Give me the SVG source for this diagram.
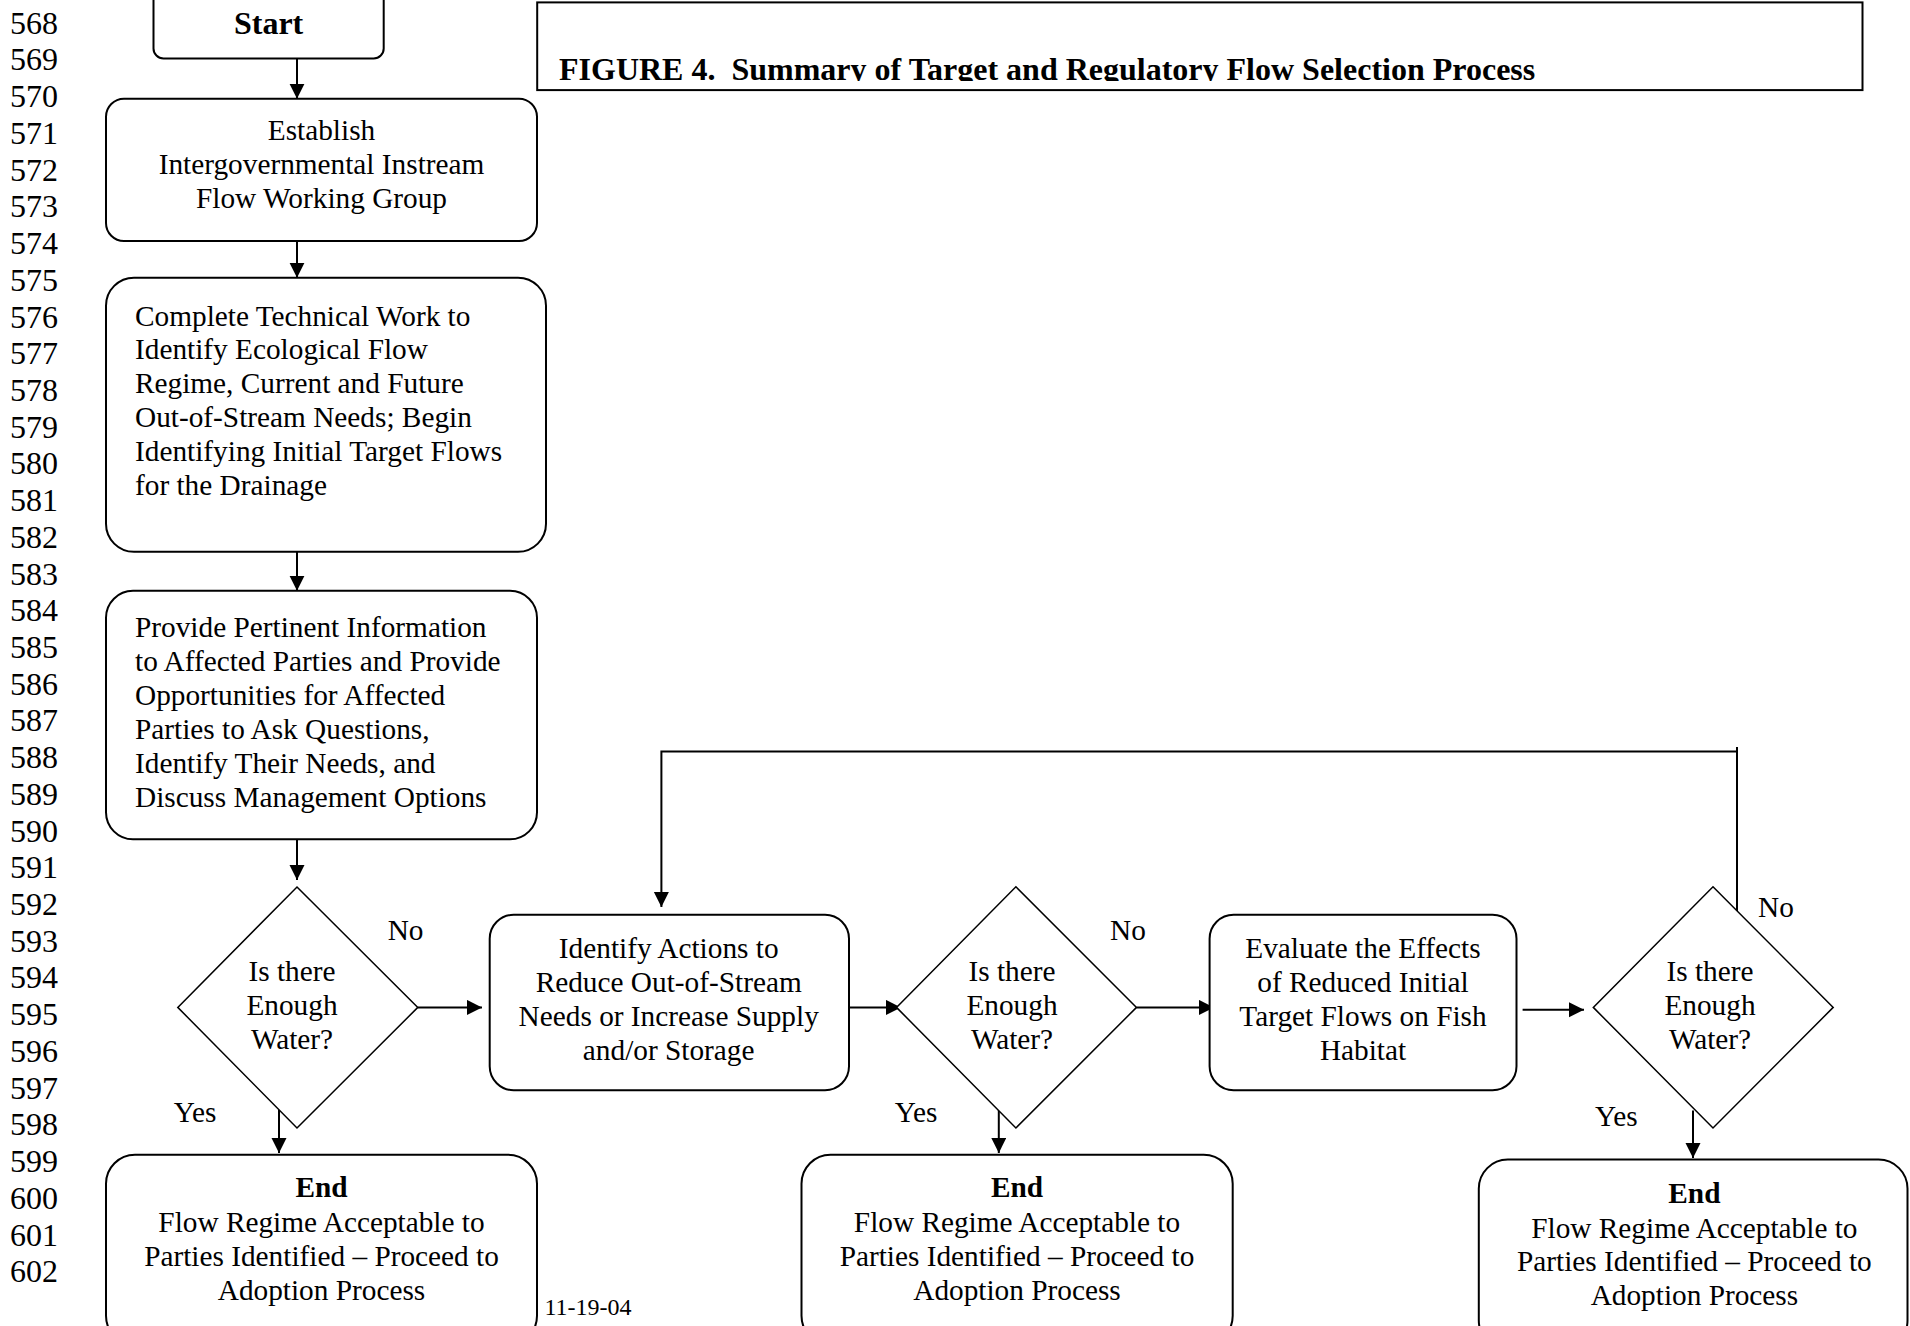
<svg xmlns="http://www.w3.org/2000/svg" width="1910" height="1326" viewBox="0 0 1910 1326">
<style>
.ln{font-family:"Liberation Serif","Times New Roman",serif;font-size:32px;fill:#000}
.t{font-family:"Liberation Serif","Times New Roman",serif;font-size:29.3px;fill:#000}
.c{text-anchor:middle}
.b{font-weight:bold}
.box{fill:#fff;stroke:#000;stroke-width:2}
.dia{fill:#fff;stroke:#000;stroke-width:1.5}
.con{fill:none;stroke:#000;stroke-width:2}
.arr{marker-end:url(#ah)}
</style>
<defs>
<marker id="ah" markerUnits="userSpaceOnUse" markerWidth="16" markerHeight="16" refX="15" refY="7.5" orient="auto"><path d="M0,0 L15,7.5 L0,15 z" fill="#000"/></marker>
<clipPath id="titleClip"><rect x="537" y="0" width="1326" height="81"/></clipPath>
</defs>
<rect width="1910" height="1326" fill="#fff"/>
<g id="line-numbers" class="ln">
<text x="10" y="33.7">568</text><text x="10" y="70.4">569</text><text x="10" y="107.1">570</text><text x="10" y="143.9">571</text><text x="10" y="180.6">572</text><text x="10" y="217.3">573</text><text x="10" y="254">574</text><text x="10" y="290.7">575</text><text x="10" y="327.5">576</text><text x="10" y="364.2">577</text><text x="10" y="400.9">578</text><text x="10" y="437.6">579</text><text x="10" y="474.3">580</text><text x="10" y="511.1">581</text><text x="10" y="547.8">582</text><text x="10" y="584.5">583</text><text x="10" y="621.2">584</text><text x="10" y="657.9">585</text><text x="10" y="694.7">586</text><text x="10" y="731.4">587</text><text x="10" y="768.1">588</text><text x="10" y="804.8">589</text><text x="10" y="841.5">590</text><text x="10" y="878.3">591</text><text x="10" y="915">592</text><text x="10" y="951.7">593</text><text x="10" y="988.4">594</text><text x="10" y="1025.1">595</text><text x="10" y="1061.9">596</text><text x="10" y="1098.6">597</text><text x="10" y="1135.3">598</text><text x="10" y="1172">599</text><text x="10" y="1208.7">600</text><text x="10" y="1245.5">601</text><text x="10" y="1282.2">602</text>
</g>
<g id="title">
<rect x="537.2" y="2.4" width="1325.3" height="87.7" fill="#fff" stroke="#000" stroke-width="2"/>
<text class="t b" style="font-size:32px" x="559" y="80" clip-path="url(#titleClip)" xml:space="preserve">FIGURE 4.  Summary of Target and Regulatory Flow Selection Process</text>
</g>
<g id="connectors">
<path class="con arr" d="M297,58.5 V98.7"/>
<path class="con arr" d="M297,241 V277.7"/>
<path class="con arr" d="M297,552 V590.8"/>
<path class="con arr" d="M297,839.3 V880"/>
<path class="con arr" d="M417.8,1007.4 H482"/>
<path class="con arr" d="M279,1109.6 V1153"/>
<path class="con arr" d="M849,1007.4 H901"/>
<path class="con arr" d="M998.8,1110 V1153"/>
<path class="con arr" d="M1136.5,1007.4 H1214"/>
<path class="con arr" d="M1522.6,1009.8 H1584"/>
<path class="con arr" d="M1693,1110.4 V1158"/>
<path class="con" d="M1737,913 V747"/>
<path class="con arr" d="M1737,751.6 H661.4 V907"/>
</g>
<g id="start">
<rect class="box" x="153.5" y="-20" width="230.2" height="78.5" rx="10"/>
<text class="t b c" style="font-size:32px" x="268.6" y="33.5">Start</text>
</g>
<g id="establish">
<rect class="box" x="106" y="98.7" width="431" height="142.3" rx="18"/>
<text class="t c" x="321.5" y="140">Establish</text>
<text class="t c" x="321.5" y="174">Intergovernmental Instream</text>
<text class="t c" x="321.5" y="208">Flow Working Group</text>
</g>
<g id="technical-work">
<rect class="box" x="106" y="277.7" width="440" height="274.1" rx="28"/>
<text class="t" x="135" y="325.5">Complete Technical Work to</text>
<text class="t" x="135" y="359.4">Identify Ecological Flow</text>
<text class="t" x="135" y="393.2">Regime, Current and Future</text>
<text class="t" x="135" y="427.1">Out-of-Stream Needs; Begin</text>
<text class="t" x="135" y="460.9">Identifying Initial Target Flows</text>
<text class="t" x="135" y="494.8">for the Drainage</text>
</g>
<g id="provide-info">
<rect class="box" x="106" y="590.8" width="431" height="248.5" rx="27"/>
<text class="t" x="135" y="637.3">Provide Pertinent Information</text>
<text class="t" x="135" y="671.2">to Affected Parties and Provide</text>
<text class="t" x="135" y="705">Opportunities for Affected</text>
<text class="t" x="135" y="738.9">Parties to Ask Questions,</text>
<text class="t" x="135" y="772.7">Identify Their Needs, and</text>
<text class="t" x="135" y="806.6">Discuss Management Options</text>
</g>
<g id="decision-1">
<path class="dia" d="M297,887 L417.8,1007.4 L297,1128 L177.8,1007.4 Z"/>
<text class="t c" x="292" y="980.8">Is there</text>
<text class="t c" x="292" y="1014.9">Enough</text>
<text class="t c" x="292" y="1049">Water?</text>
<text class="t c" x="405.6" y="940.3">No</text>
<text class="t c" x="195" y="1121.7">Yes</text>
</g>
<g id="end-1">
<rect class="box" x="106" y="1154.8" width="431" height="190" rx="29"/>
<text class="t b c" x="321.5" y="1197.3">End</text>
<text class="t c" x="321.5" y="1231.8">Flow Regime Acceptable to</text>
<text class="t c" x="321.5" y="1265.9">Parties Identified – Proceed to</text>
<text class="t c" x="321.5" y="1300">Adoption Process</text>
</g>
<text id="date" class="t" style="font-size:24px" x="544.5" y="1315">11-19-04</text>
<g id="identify-actions">
<rect class="box" x="489.7" y="914.8" width="359.3" height="175.4" rx="24"/>
<text class="t c" x="668.7" y="957.7">Identify Actions to</text>
<text class="t c" x="668.7" y="991.8">Reduce Out-of-Stream</text>
<text class="t c" x="668.7" y="1025.9">Needs or Increase Supply</text>
<text class="t c" x="668.7" y="1060">and/or Storage</text>
</g>
<g id="decision-2">
<path class="dia" d="M1015.9,886.8 L1136.5,1007.4 L1015.9,1128 L896.5,1007.4 Z"/>
<text class="t c" x="1012" y="980.8">Is there</text>
<text class="t c" x="1012" y="1014.9">Enough</text>
<text class="t c" x="1012" y="1049">Water?</text>
<text class="t c" x="1128" y="940.3">No</text>
<text class="t c" x="916" y="1121.7">Yes</text>
</g>
<g id="end-2">
<rect class="box" x="801.5" y="1154.8" width="431.2" height="190" rx="29"/>
<text class="t b c" x="1017" y="1197.3">End</text>
<text class="t c" x="1017" y="1231.8">Flow Regime Acceptable to</text>
<text class="t c" x="1017" y="1265.9">Parties Identified – Proceed to</text>
<text class="t c" x="1017" y="1300">Adoption Process</text>
</g>
<g id="evaluate-effects">
<rect class="box" x="1209.6" y="914.8" width="306.9" height="175.4" rx="24"/>
<text class="t c" x="1363" y="957.7">Evaluate the Effects</text>
<text class="t c" x="1363" y="991.8">of Reduced Initial</text>
<text class="t c" x="1363" y="1025.9">Target Flows on Fish</text>
<text class="t c" x="1363" y="1060">Habitat</text>
</g>
<g id="decision-3">
<path class="dia" d="M1713,886.8 L1833.2,1007.4 L1713,1128 L1593.3,1007.4 Z"/>
<text class="t c" x="1710" y="980.8">Is there</text>
<text class="t c" x="1710" y="1014.9">Enough</text>
<text class="t c" x="1710" y="1049">Water?</text>
<text class="t c" x="1776" y="917.2">No</text>
<text class="t c" x="1616.4" y="1125.5">Yes</text>
</g>
<g id="end-3">
<rect class="box" x="1478.8" y="1159.6" width="428.7" height="190" rx="29"/>
<text class="t b c" x="1694.4" y="1203.4">End</text>
<text class="t c" x="1694.4" y="1237.8">Flow Regime Acceptable to</text>
<text class="t c" x="1694.4" y="1270.7">Parties Identified – Proceed to</text>
<text class="t c" x="1694.4" y="1304.9">Adoption Process</text>
</g>
</svg>
